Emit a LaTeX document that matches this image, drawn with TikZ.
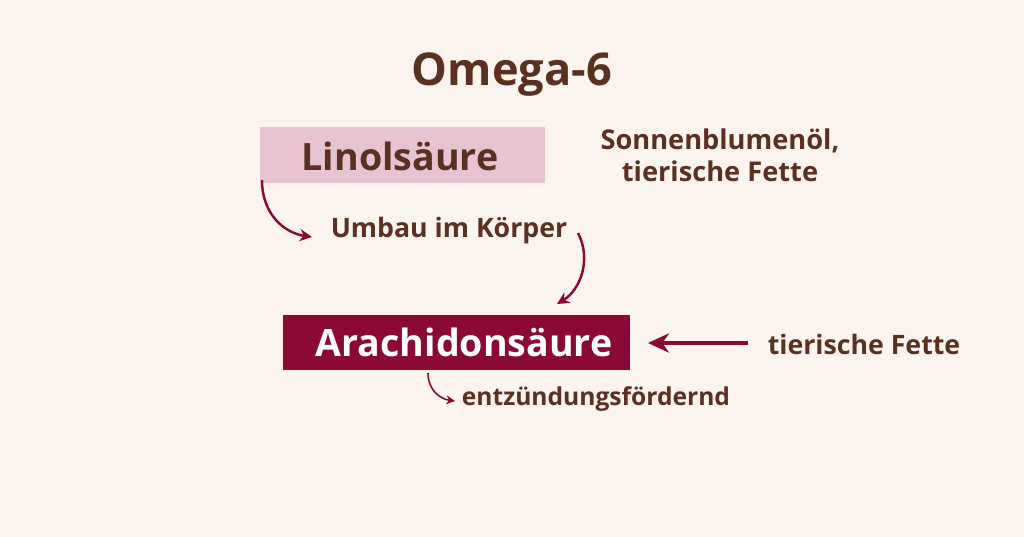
\documentclass[tikz,border=0pt]{standalone}
\usepackage{fontspec}
\setmainfont{Open Sans}
\usetikzlibrary{arrows.meta,positioning}
\definecolor{cream}{HTML}{FBF3EE}
\definecolor{brownish}{HTML}{5A3020}
\definecolor{rosebox}{HTML}{E6C3D0}
\definecolor{wine}{HTML}{8A0A33}
\tikzset{
  label text/.style = {text=brownish, font=\bfseries\fontsize{15.5}{18}\selectfont, align=center},
  curve arrow/.style = {draw=wine, line width=1.4pt, -{Stealth[length=7pt,width=7pt]}}
}
\begin{document}
\begin{tikzpicture}[x=0.02cm, y=-0.02cm]
  % Background
  \fill [cream] (0,0) rectangle (1024,537);
  \useasboundingbox (0,0) rectangle (1024,537);

  % Title
  \node (title) [text=brownish, font=\bfseries\fontsize{25.7}{30}\selectfont] at (512,75) {Omega-6};

  % Boxes
  \fill [rosebox] (260,127) rectangle (545,183);
  \node (lino) [text=brownish, font=\bfseries\fontsize{21.4}{25}\selectfont] at (400,156) {Linolsäure};
  \fill [wine] (283,315) rectangle (630,370);
  \node (arach) [text=white, font=\bfseries\fontsize{21.4}{25}\selectfont] at (464,342) {Arachidonsäure};

  % Labels
  \node (source1) [label text] at (720,155) {Sonnenblumenöl,\\tierische Fette};
  \node (umbau) [label text, font=\bfseries\fontsize{15.2}{18}\selectfont] at (449,231) {Umbau im Körper};
  \node (source2) [label text, font=\bfseries\fontsize{15.2}{18}\selectfont] at (864,344) {tierische Fette};
  \node (effect) [label text, font=\bfseries\fontsize{14}{17}\selectfont] at (596,399) {entzündungsfördernd};

  % Arrows
  \coordinate (a1) at (262,180);
  \coordinate (a2) at (312,237);
  \coordinate (b1) at (578,233);
  \coordinate (b2) at (557,304);
  \coordinate (c1) at (748,343);
  \coordinate (c2) at (648,343);
  \coordinate (d1) at (428,373);
  \coordinate (d2) at (455,401);
  \draw [curve arrow] (a1) .. controls (262,215) and (285,233) .. (a2);
  \draw [curve arrow] (b1) .. controls (592,260) and (580,290) .. (b2);
  \draw [curve arrow, line width=2.4pt, -{Stealth[length=12pt,width=11pt]}] (c1) -- (c2);
  \draw [curve arrow, line width=0.9pt, -{Stealth[length=5pt,width=5pt]}] (d1) .. controls (428,390) and (440,399) .. (d2);
\end{tikzpicture}
\end{document}
